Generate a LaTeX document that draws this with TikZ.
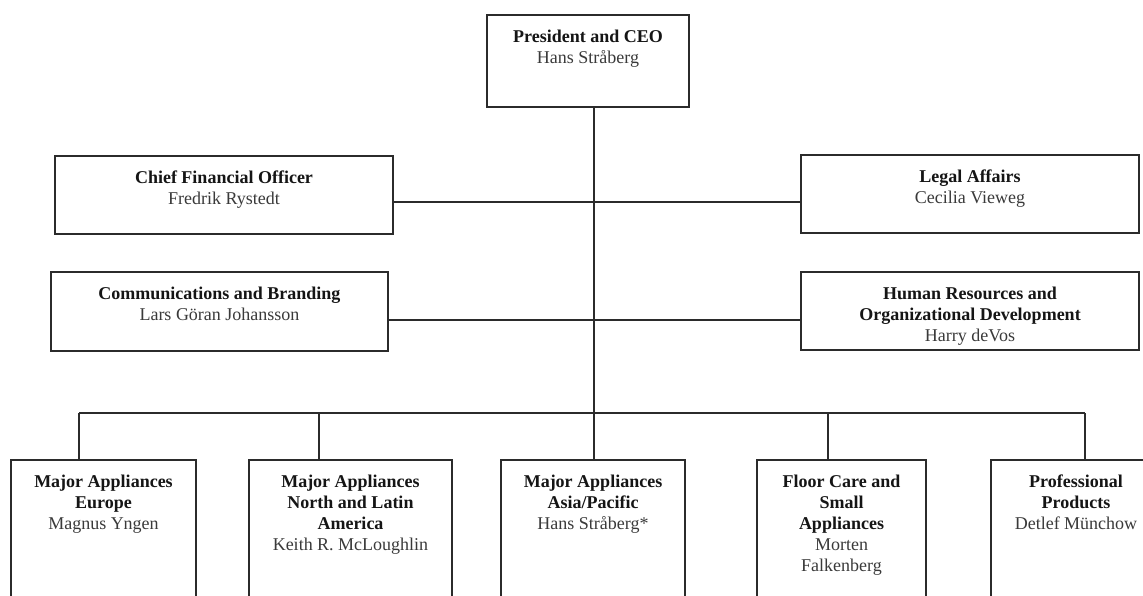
\documentclass[tikz,border=0pt]{standalone}
\usepackage{fontspec}
\setmainfont{Liberation Serif}
\definecolor{linecol}{HTML}{2B2B2B}
\definecolor{titlecol}{HTML}{151515}
\definecolor{namecol}{HTML}{3A3A3A}
\newcommand\orgtxt[4]{\parbox[c][#2pt][t]{#1pt}{\centering\rule{0pt}{27pt}{\bfseries\color{titlecol}#3}\\{\color{namecol}#4}}}
\tikzset{
  orgbox/.style={draw=linecol, line width=1.2pt, inner sep=0pt, outer sep=0pt,
    font=\fontsize{18}{21}\selectfont},
  link/.style={draw=linecol, line width=1.2pt}
}
\begin{document}
\begin{tikzpicture}[x=1pt,y=-1pt]
\useasboundingbox (0,0) rectangle (1143,595);
\clip (0,0) rectangle (1143,595);
\fill[white] (0,0) rectangle (1143,595);

\node[orgbox] (ceo) at (588,61) {\orgtxt{202}{92}{President and CEO}{Hans Stråberg}};
\node[orgbox] (cfo) at (224,195) {\orgtxt{338}{78}{Chief Financial Officer}{Fredrik Rystedt}};
\node[orgbox] (legal) at (970,194) {\orgtxt{338}{78}{Legal Affairs}{Cecilia Vieweg}};
\node[orgbox] (comm) at (219.5,311.5) {\orgtxt{337}{79}{Communications and Branding}{Lars Göran Johansson}};
\node[orgbox] (hr) at (970,311) {\orgtxt{338}{78}{Human Resources and\\Organizational Development}{Harry deVos}};

\node[orgbox] (b1) at (103.5,540) {\orgtxt{185}{160}{Major Appliances\\Europe}{Magnus Yngen}};
\node[orgbox] (b2) at (350.5,540) {\orgtxt{203}{160}{Major Appliances\\North and Latin\\America}{Keith R. McLoughlin}};
\node[orgbox] (b3) at (593,540) {\orgtxt{184}{160}{Major Appliances\\Asia/Pacific}{Hans Stråberg*}};
\node[orgbox] (b4) at (841.5,540) {\orgtxt{169}{160}{Floor Care and\\Small\\Appliances}{Morten\\Falkenberg}};
\node[orgbox] (b5) at (1076,540) {\orgtxt{170}{160}{Professional\\Products}{Detlef Münchow}};

\coordinate (s1) at (594,202);
\coordinate (s2) at (594,320);
\coordinate (j1) at (79,413);
\coordinate (j2) at (319,413);
\coordinate (j3) at (594,413);
\coordinate (j4) at (828,413);
\coordinate (j5) at (1085,413);

\draw[link] (ceo.south -| j3) -- (j3);
\draw[link] (cfo.east |- s1) -- (legal.west |- s1);
\draw[link] (comm.east |- s2) -- (hr.west |- s2);
\draw[link] (j1) -- (j5);
\draw[link] (j1) -- (j1 |- b1.north);
\draw[link] (j2) -- (j2 |- b2.north);
\draw[link] (j3) -- (j3 |- b3.north);
\draw[link] (j4) -- (j4 |- b4.north);
\draw[link] (j5) -- (j5 |- b5.north);
\end{tikzpicture}
\end{document}
